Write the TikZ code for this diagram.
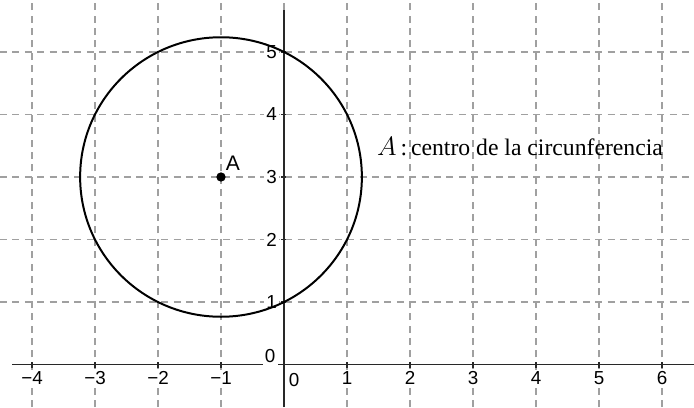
\documentclass[tikz,border=0pt]{standalone}
\usepackage{fontspec}
\setmainfont{Liberation Sans}
\newfontfamily\annfont{Liberation Serif}
\usepackage{tikz}
\usetikzlibrary{positioning,calc}
\definecolor{gridgray}{RGB}{160,160,160}
\definecolor{axisgray}{RGB}{40,40,40}
\tikzset{
  gridln/.style ={draw=gridgray, line width=0.5pt, dash pattern=on 3.2pt off 2.4pt},
  axisln/.style ={draw=axisgray, line width=0.7pt},
  ticklbl/.style={font=\fontsize{8.5}{9}\selectfont, inner sep=1pt, fill=white},
  ptdot/.style  ={circle, fill=black, minimum size=4.2pt, inner sep=0pt},
  circ/.style   ={draw=black, line width=0.9pt},
}

\begin{document}
\begin{tikzpicture}[x=1cm, y=0.99206cm]
  \useasboundingbox (-4.508,-0.68) rectangle (6.508,5.832);
  % grid
  \foreach \i in {-4,...,6} \draw[gridln] (\i,-0.68) -- (\i,5.832);
  \foreach \j in {1,...,5} \draw[gridln] (-4.508,\j) -- (6.508,\j);
  % axes
  \coordinate (xl) at (-4.317,0);
  \coordinate (xr) at (6.508,0);
  \coordinate (yb) at (0,-0.68);
  \coordinate (yt) at (0,5.672);
  \draw[axisln] (xl) -- (xr);
  \draw[axisln] (yb) -- (yt);
  \foreach \i in {-4,-3,-2,-1,1,2,3,4,5,6} {
    \draw[axisln] (\i,0.035) -- (\i,-0.05);
    \node[ticklbl] (xt\i) at (\i,-0.22) {\ifnum\i<0 −\the\numexpr-\i\relax\else\i\fi};
  }
  \foreach \j in {1,...,5} {
    \draw[axisln] (-0.05,\j) -- (0.035,\j);
    \node[ticklbl, anchor=east] (yt\j) at (-0.07,\j) {\j};
  }
  \node[ticklbl] (x0) at (0.16,-0.25) {0};
  \node[ticklbl] (y0) at (-0.22,0.135) {0};
  % circle and centre
  \coordinate (A) at (-1,3);
  \draw[circ] (A) circle [radius=2.236];
  \node[ptdot] (Adot) at (A) {};
  \node[font=\fontsize{9.5}{10}\selectfont, inner sep=0pt] (Alab) at (-0.81,3.22) {A};
  \node[anchor=base west, inner sep=0pt] (note) at (1.47,3.352)
    {\fontsize{12.5}{14}\selectfont$A$\annfont\fontsize{10.7}{12}\selectfont\,:\,centro de la circunferencia};
\end{tikzpicture}
\end{document}
